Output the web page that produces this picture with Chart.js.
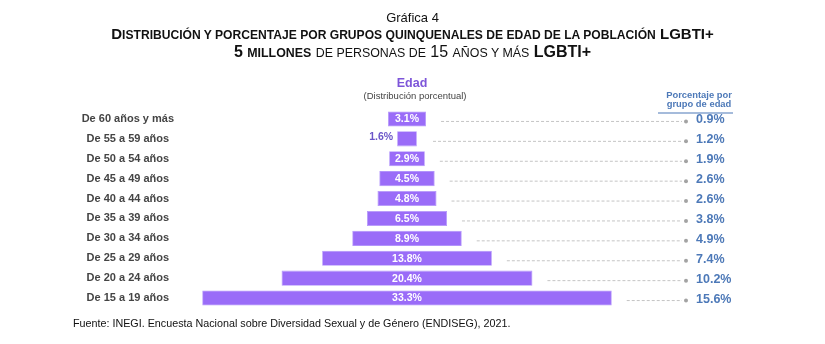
<!DOCTYPE html>
<html>
<head>
<meta charset="utf-8">
<script src="https://cdn.jsdelivr.net/npm/chart.js@4"></script>
<style>
  body { margin: 0; background: #fff; font-family: 'Liberation Sans', Arial, sans-serif; }
  #wrap { position: relative; width: 825px; height: 344px; }
  canvas { position: absolute; left: 0; top: 0; }
  .t { position: absolute; left: 0; width: 825px; text-align: center; color: #111; white-space: nowrap; }
  .sc { font-size: 12.1px; }
  .sc3 { font-size: 12.4px; }
</style>
</head>
<body>
<div id="wrap">
  <canvas id="chart" width="825" height="344"></canvas>
  <div class="t" style="top:10px;font-size:13px;line-height:16px">Gráfica 4</div>
  <div class="t" style="top:26px;font-size:15px;line-height:16px;font-weight:bold">D<span class="sc">ISTRIBUCIÓN Y PORCENTAJE POR GRUPOS QUINQUENALES DE EDAD DE LA POBLACIÓN</span> LGBTI+</div>
  <div class="t" style="top:43px;font-size:16px;line-height:17px"><b>5 <span class="sc3">MILLONES</span></b> <span class="sc3">DE PERSONAS DE</span> 15 <span class="sc3">AÑOS Y MÁS</span> <b>LGBTI+</b></div>
  <div style="position:absolute;left:73px;top:316px;font-size:10.75px;line-height:14px;color:#111;white-space:nowrap">Fuente: INEGI. Encuesta Nacional sobre Diversidad Sexual y de Género (ENDISEG), 2021.</div>
</div>
<script>
const ageGroups = [
    'De 60 años y más',
    'De 55 a 59 años',
    'De 50 a 54 años',
    'De 45 a 49 años',
    'De 40 a 44 años',
    'De 35 a 39 años',
    'De 30 a 34 años',
    'De 25 a 29 años',
    'De 20 a 24 años',
    'De 15 a 19 años'
];

// distribucion porcentual (barras)
const distribution = [3.1, 1.6, 2.9, 4.5, 4.8, 6.5, 8.9, 13.8, 20.4, 33.3];

// porcentaje por grupo de edad (columna derecha)
const groupShare = [0.9, 1.2, 1.9, 2.6, 2.6, 3.8, 4.9, 7.4, 10.2, 15.6];

const purple = '#9a6cf8';
const blue = '#4d79b8';

const fmt = v => v.toFixed(1) + '%';

// etiquetas, lineas punteadas y columna derecha
const extras = {
    id: 'extras',
    afterDatasetsDraw(chart) {
        const ctx = chart.ctx;
        const x = chart.scales.x;
        const y = chart.scales.y;
        ctx.save();

        distribution.forEach((v, i) => {
            const yc = y.getPixelForValue(i);
            const left = x.getPixelForValue(-v / 2);
            const right = x.getPixelForValue(v / 2);
            ctx.font = 'bold 10.5px "Liberation Sans", Arial, sans-serif';
            ctx.textBaseline = 'middle';
            if (right - left < 25) {
                ctx.fillStyle = '#6a55c8';
                ctx.textAlign = 'right';
                ctx.fillText(fmt(v), left - 4, yc - 1.5);
            } else {
                ctx.fillStyle = '#fff';
                ctx.textAlign = 'center';
                ctx.fillText(fmt(v), (left + right) / 2, yc + 0.5);
            }

            // linea punteada hasta el valor del grupo
            const start = Math.max(433, right + 15);
            ctx.strokeStyle = '#c4c4c4';
            ctx.lineWidth = 1;
            ctx.setLineDash([3, 2]);
            ctx.beginPath();
            ctx.moveTo(start, yc + 2.5);
            ctx.lineTo(682, yc + 2.5);
            ctx.stroke();
            ctx.setLineDash([]);
            ctx.fillStyle = '#a3a3a3';
            ctx.beginPath();
            ctx.arc(686, yc + 2.5, 2, 0, Math.PI * 2);
            ctx.fill();

            ctx.fillStyle = blue;
            ctx.font = 'bold 12.5px "Liberation Sans", Arial, sans-serif';
            ctx.textAlign = 'left';
            ctx.fillText(fmt(groupShare[i]), 696, yc + 1);
        });

        // encabezados
        ctx.textAlign = 'center';
        ctx.fillStyle = '#7d55d9';
        ctx.font = 'bold 12.5px "Liberation Sans", Arial, sans-serif';
        ctx.fillText('Edad', 412, 84);
        ctx.fillStyle = '#444';
        ctx.font = '9.5px "Liberation Sans", Arial, sans-serif';
        ctx.fillText('(Distribución porcentual)', 415, 96);

        ctx.fillStyle = blue;
        ctx.font = 'bold 9.4px "Liberation Sans", Arial, sans-serif';
        ctx.fillText('Porcentaje por', 699, 95.5);
        ctx.fillText('grupo de edad', 699, 104.5);
        ctx.strokeStyle = blue;
        ctx.lineWidth = 1.2;
        ctx.beginPath();
        ctx.moveTo(658, 113);
        ctx.lineTo(733, 113);
        ctx.stroke();

        ctx.restore();
    }
};

new Chart(document.getElementById('chart'), {
    type: 'bar',
    data: {
        labels: ageGroups,
        datasets: [{
            label: 'Distribución porcentual',
            data: distribution.map(v => [-v / 2, v / 2]),
            backgroundColor: purple,
            borderColor: '#b294fb',
            borderWidth: 0.8,
            borderSkipped: false,
            barPercentage: 0.76,
            categoryPercentage: 1
        }]
    },
    options: {
        indexAxis: 'y',
        responsive: false,
        devicePixelRatio: 1,
        animation: false,
        layout: {
            padding: { left: 0, right: 206, top: 109, bottom: 36 }
        },
        plugins: {
            legend: { display: false },
            title: { display: false },
            tooltip: { enabled: false }
        },
        scales: {
            x: {
                display: false,
                min: -17.24,
                max: 17.24
            },
            y: {
                grid: { display: false, drawTicks: false },
                border: { display: false },
                afterFit(scale) { scale.width = 195; },
                ticks: {
                    crossAlign: 'center',
                    padding: 21,
                    color: '#444',
                    font: { family: '"Liberation Sans", Arial, sans-serif', size: 11, weight: 'bold' }
                }
            }
        }
    },
    plugins: [extras]
});
</script>
</body>
</html>
